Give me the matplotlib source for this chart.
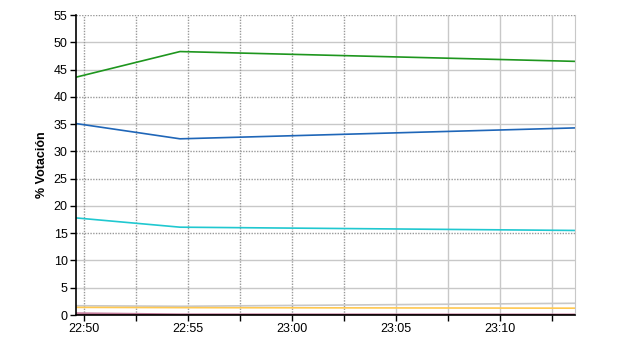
import matplotlib
matplotlib.use("Agg")
import matplotlib.pyplot as plt
import matplotlib.dates as mdates
import datetime as _dt
from datetime import datetime

plt.rcParams['font.family'] = ['Liberation Sans', 'DejaVu Sans']

times = ["22:49:37", "22:54:37", "23:13:36"]
green = [43.6, 48.3, 46.5]
blue = [35.1, 32.3, 34.3]
cyan = [17.8, 16.1, 15.5]
gray = [1.7, 1.6, 2.15]
yellow = [1.4, 1.35, 1.25]
pink = [0.35, 0.15, 0.12]
maroon = [0.08, 0.08, 0.08]

x_ticks = ["22:50", "22:55", "23:00", "23:05", "23:10"]
y_ticks = [0, 5, 10, 15, 20, 25, 30, 35, 40, 45, 50, 55]

def t(s):
    return datetime.strptime("2000-01-01 " + s, "%Y-%m-%d %H:%M:%S")

xs = [t(s) for s in times]

fig = plt.figure(figsize=(6.4, 3.5), dpi=100)
ax = fig.add_axes([76/640, 1-315/350, (575-76)/640, 300/350])

ax.set_ylim(0, 55)
ax.set_yticks(y_ticks)
ax.set_xlim(t("22:49:37"), t("23:13:36"))

major = [t(s + ":00") for s in x_ticks]
ax.set_xticks(major)
ax.set_xticklabels(x_ticks)
ax.set_xticks([m + _dt.timedelta(seconds=150) for m in major], minor=True)

ax.grid(False)
for yv in y_ticks:
    if yv in (55, 40, 30, 25, 15):
        ax.axhline(yv, color='#999999', lw=1, ls=(0, (1, 1)), zorder=0.5)
    else:
        ax.axhline(yv, color='#c8c8c8', lw=1, zorder=0.5)
start = t("22:50:00")
for i in range(10):
    xv = start + _dt.timedelta(seconds=150 * i)
    if i <= 5:
        ax.axvline(xv, color='#999999', lw=1, ls=(0, (1, 1)), zorder=0.5)
    else:
        ax.axvline(xv, color='#c8c8c8', lw=1, zorder=0.5)

ax.plot(xs, gray, color='#c8c8c8', lw=1.2)
ax.plot(xs, yellow, color='#ffc850', lw=1.2)
ax.plot(xs, pink, color='#c07898', lw=1.2)
ax.plot(xs, maroon, color='#80102a', lw=1.2)
ax.plot(xs, cyan, color='#20c8d0', lw=1.2)
ax.plot(xs, blue, color='#1f66b8', lw=1.2)
ax.plot(xs, green, color='#1e961e', lw=1.2)

ax.spines['top'].set_visible(False)
ax.spines['right'].set_color('#c8c8c8')
ax.spines['left'].set_color('black')
ax.spines['bottom'].set_color('black')
ax.spines['left'].set_linewidth(1.2)
ax.spines['bottom'].set_linewidth(1.2)

ax.tick_params(axis='both', which='both', direction='out', length=4, width=1, colors='black', labelsize=9)
ax.tick_params(axis='x', which='major', pad=2)
ax.tick_params(axis='y', pad=2)

ax.set_ylabel("% Votación", fontsize=9, fontweight='bold', labelpad=4)

fig.savefig("out.png", dpi=100)
